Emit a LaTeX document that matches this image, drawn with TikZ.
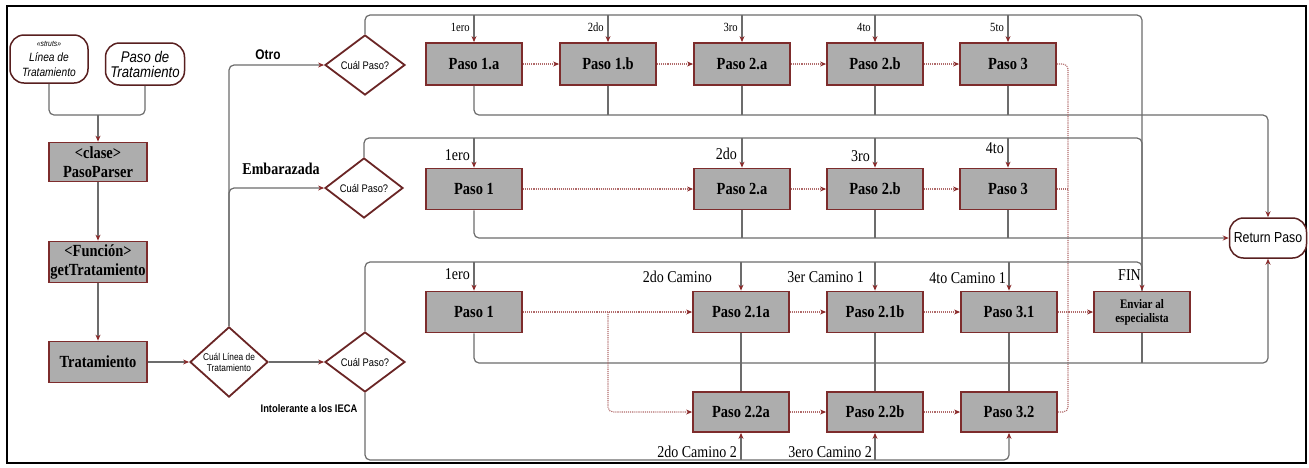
\documentclass[tikz,border=0pt]{standalone}
\usepackage{fontspec}
\setmainfont{Liberation Serif}
\setsansfont{Liberation Sans}
\newfontfamily\condserif[FakeStretch=0.85]{Liberation Serif}
\newfontfamily\condsans[FakeStretch=0.85]{Liberation Sans}
\usetikzlibrary{arrows.meta, shapes.geometric, positioning}

\definecolor{boxred}{HTML}{7D2C2C}
\definecolor{boxgray}{HTML}{ADADAD}
\definecolor{linegray}{HTML}{6C6C6C}
\definecolor{tipred}{HTML}{8A2A2A}
\definecolor{dotred}{HTML}{B06A6A}

\tikzset{
  paso/.style={draw=boxred, line width=1.8pt, fill=boxgray, minimum width=96pt,
    minimum height=41pt, inner sep=1pt, align=center,
    font=\condserif\bfseries\fontsize{17}{19}\selectfont},
  pregunta/.style={diamond, draw=boxred!85!black, line width=1.8pt, fill=white,
    inner sep=0pt, minimum width=80pt, minimum height=60pt, align=center,
    font=\condsans\fontsize{11}{12}\selectfont},
  entrada/.style={draw=boxred!70!black, line width=1.5pt, rounded corners=14pt,
    fill=white, inner sep=1pt, align=center,
    font=\condsans\itshape\fontsize{15.5}{15}\selectfont},
  flujo/.style={draw=linegray, line width=1.2pt, rounded corners=5pt},
  punteado/.style={draw=dotred, line width=1.1pt, densely dotted, rounded corners=5pt},
  etq/.style={inner sep=0pt, font=\condserif\fontsize{16.5}{18}\selectfont},
  etqtop/.style={inner sep=0pt, font=\condserif\fontsize{12.5}{14}\selectfont},
  >={Stealth[length=6pt, width=5pt, color=tipred]}
}

\begin{document}
\begin{tikzpicture}[x=1pt, y=-1pt]
  \useasboundingbox (0,0) rectangle (1309,467);
  % marco
  \draw[line width=1.6pt] (7,6) rectangle (1306,463);

  % entradas y clase
  \node[entrada, minimum width=78pt, minimum height=48pt,
    font=\condsans\itshape\fontsize{12}{15}\selectfont] (linea) at (49,59)
    {{\fontsize{8}{9}\selectfont «struts»}\\Línea de\\Tratamiento};
  \node[entrada, minimum width=79pt, minimum height=42pt] (pasoTrat) at (145,64) {Paso de\\Tratamiento};
  \node[paso, minimum width=98pt, minimum height=39pt] (parser) at (98,162) {<clase>\\PasoParser};
  \node[paso, minimum width=98pt] (getTrat) at (98,262) {<Función>\\getTratamiento};
  \node[paso, minimum width=98pt] (trat) at (98,362) {Tratamiento};

  % preguntas
  \node[pregunta, minimum width=78pt, minimum height=65pt,
    font=\condsans\fontsize{9.8}{11}\selectfont] (qLinea) at (229,362) {Cuál Línea de\\Tratamiento};
  \node[pregunta] (qOtro) at (365,65) {Cuál Paso?};
  \node[pregunta, minimum width=78pt] (qEmb) at (364,188) {Cuál Paso?};
  \node[pregunta] (qInt) at (365,362) {Cuál Paso?};

  % fila Otro
  \node[paso, minimum height=42pt] (o1a) at (474,64) {Paso 1.a};
  \node[paso, minimum height=42pt] (o1b) at (608,64) {Paso 1.b};
  \node[paso, minimum height=42pt] (o2a) at (742,64) {Paso 2.a};
  \node[paso, minimum height=42pt] (o2b) at (875,64) {Paso 2.b};
  \node[paso, minimum height=42pt] (o3) at (1008,64) {Paso 3};

  % fila Embarazada
  \node[paso] (e1) at (474,189) {Paso 1};
  \node[paso] (e2a) at (742,189) {Paso 2.a};
  \node[paso] (e2b) at (875,189) {Paso 2.b};
  \node[paso] (e3) at (1008,189) {Paso 3};

  % filas Intolerante
  \node[paso] (i1) at (474,312) {Paso 1};
  \node[paso] (i21a) at (741,312) {Paso 2.1a};
  \node[paso] (i21b) at (875,312) {Paso 2.1b};
  \node[paso] (i31) at (1009,312) {Paso 3.1};
  \node[paso, font=\condserif\bfseries\fontsize{13}{14}\selectfont] (enviar) at (1142,312) {Enviar al\\especialista};
  \node[paso, minimum height=40pt] (i22a) at (741,412) {Paso 2.2a};
  \node[paso, minimum height=40pt] (i22b) at (875,412) {Paso 2.2b};
  \node[paso, minimum height=40pt] (i32) at (1009,412) {Paso 3.2};

  \node[entrada, minimum width=77pt, minimum height=40pt,
    font=\condsans\fontsize{14.5}{16}\selectfont] (ret) at (1268,238) {Return Paso};

  % buses
  \coordinate (merge) at (98,115);
  \coordinate (topO) at (0,15);
  \coordinate (botO) at (0,115);
  \coordinate (topE) at (0,138);
  \coordinate (topI) at (0,262);
  \coordinate (botI) at (0,363);
  \coordinate (botII) at (0,460);
  \coordinate (xb) at (608,0);
  \coordinate (xd) at (1068,0);

  % columna izquierda
  \draw[flujo] (linea.south) |- (merge) -| (pasoTrat.south);
  \draw[flujo, ->] (merge) -- (parser.north);
  \draw[flujo, ->] (parser) -- (getTrat);
  \draw[flujo, ->] (getTrat) -- (trat);
  \draw[flujo, ->] (trat) -- (qLinea);
  \draw[flujo, ->] (qLinea) -- (qInt);
  \draw[flujo, ->] (qLinea.north) |- (qOtro.west);
  \draw[flujo, ->] (qLinea.north) |- (qEmb.west);

  % Otro
  \draw[flujo] (qOtro.north) |- (enviar.north |- topO) -- (enviar.north);
  \draw[flujo, ->] (o1a.north |- topO) -- (o1a.north);
  \draw[flujo, ->] (o1b.north |- topO) -- (o1b.north);
  \draw[flujo, ->] (o2a.north |- topO) -- (o2a.north);
  \draw[flujo, ->] (o2b.north |- topO) -- (o2b.north);
  \draw[flujo, ->] (o3.north |- topO) -- (o3.north);
  \draw[flujo, ->] (o1a.south) |- (ret.north |- botO) -- (ret.north);
  \draw[flujo] (o1b.south) -- (o1b.south |- botO);
  \draw[flujo] (o2a.south) -- (o2a.south |- botO);
  \draw[flujo] (o2b.south) -- (o2b.south |- botO);
  \draw[flujo] (o3.south) -- (o3.south |- botO);
  \draw[punteado, ->] (o1a) -- (o1b);
  \draw[punteado, ->] (o1b) -- (o2a);
  \draw[punteado, ->] (o2a) -- (o2b);
  \draw[punteado, ->] (o2b) -- (o3);
  \draw[punteado] (o3.east) -| (xd |- i32.east) -- (i32.east);

  % Embarazada
  \draw[flujo] (qEmb.north) |- (enviar.north |- topE) -- (enviar.north);
  \draw[flujo, ->] (e1.north |- topE) -- (e1.north);
  \draw[flujo, ->] (e2a.north |- topE) -- (e2a.north);
  \draw[flujo, ->] (e2b.north |- topE) -- (e2b.north);
  \draw[flujo, ->] (e3.north |- topE) -- (e3.north);
  \draw[flujo, ->] (e1.south) |- (ret.west);
  \draw[flujo] (e2a.south) -- (e2a.south |- ret.west);
  \draw[flujo] (e2b.south) -- (e2b.south |- ret.west);
  \draw[flujo] (e3.south) -- (e3.south |- ret.west);
  \draw[punteado, ->] (e1) -- (e2a);
  \draw[punteado, ->] (e2a) -- (e2b);
  \draw[punteado, ->] (e2b) -- (e3);
  \draw[punteado] (e3.east) -- (e3.east -| xd);

  % Intolerante
  \draw[flujo, ->] (qInt.north) |- (enviar.north |- topI) -- (enviar.north);
  \draw[flujo, ->] (i1.north |- topI) -- (i1.north);
  \draw[flujo, ->] (i21a.north |- topI) -- (i21a.north);
  \draw[flujo, ->] (i21b.north |- topI) -- (i21b.north);
  \draw[flujo, ->] (i31.north |- topI) -- (i31.north);
  \draw[flujo, ->] (i1.south) |- (ret.south |- botI) -- (ret.south);
  \draw[flujo] (i21a.south) -- (i22a.north);
  \draw[flujo] (i21b.south) -- (i22b.north);
  \draw[flujo] (i31.south) -- (i32.north);
  \draw[flujo] (enviar.south) -- (enviar.south |- botI);
  \draw[flujo, ->] (qInt.south) |- (i32.south |- botII) -- (i32.south);
  \draw[flujo, ->] (i22a.south |- botII) -- (i22a.south);
  \draw[flujo, ->] (i22b.south |- botII) -- (i22b.south);
  \draw[punteado, ->] (i1) -- (i21a);
  \draw[punteado, ->] (i1.east -| xb) |- (i22a.west);
  \draw[punteado, ->] (i21a) -- (i21b);
  \draw[punteado, ->] (i21b) -- (i31);
  \draw[punteado, ->] (i31) -- (enviar);
  \draw[punteado, ->] (i22a) -- (i22b);
  \draw[punteado, ->] (i22b) -- (i32);

  % etiquetas
  \node[etq, font=\condsans\bfseries\fontsize{14}{16}\selectfont] (lOtro) at (268,55) {Otro};
  \node[etq, font=\condserif\bfseries\fontsize{16.5}{18}\selectfont] (lEmb) at (281,169) {Embarazada};
  \node[etq, font=\condsans\bfseries\fontsize{11}{12}\selectfont] (lInt) at (309,409) {Intolerante a los IECA};

  \node[etqtop, anchor=east] (lo1a) at (470,27) {1ero};
  \node[etqtop, anchor=east] (lo1b) at (604,27) {2do};
  \node[etqtop, anchor=east] (lo2a) at (738,27) {3ro};
  \node[etqtop, anchor=east] (lo2b) at (871,27) {4to};
  \node[etqtop, anchor=east] (lo3) at (1004,27) {5to};

  \node[etq, anchor=east] (le1) at (470,155) {1ero};
  \node[etq, anchor=east] (le2a) at (737,154) {2do};
  \node[etq, anchor=east] (le2b) at (870,156) {3ro};
  \node[etq, anchor=east] (le3) at (1004,148) {4to};

  \node[etq, anchor=east] (li1) at (470,274) {1ero};
  \node[etq, anchor=east] (li21a) at (712,277) {2do Camino};
  \node[etq, anchor=east] (li21b) at (864,277) {3er Camino 1};
  \node[etq, anchor=east] (li31) at (1006,278) {4to Camino 1};
  \node[etq, anchor=east] (lfin) at (1141,275) {FIN};
  \node[etq, anchor=east] (li22a) at (737,452) {2do Camino 2};
  \node[etq, anchor=east] (li22b) at (872,452) {3ero Camino 2};
\end{tikzpicture}
\end{document}
